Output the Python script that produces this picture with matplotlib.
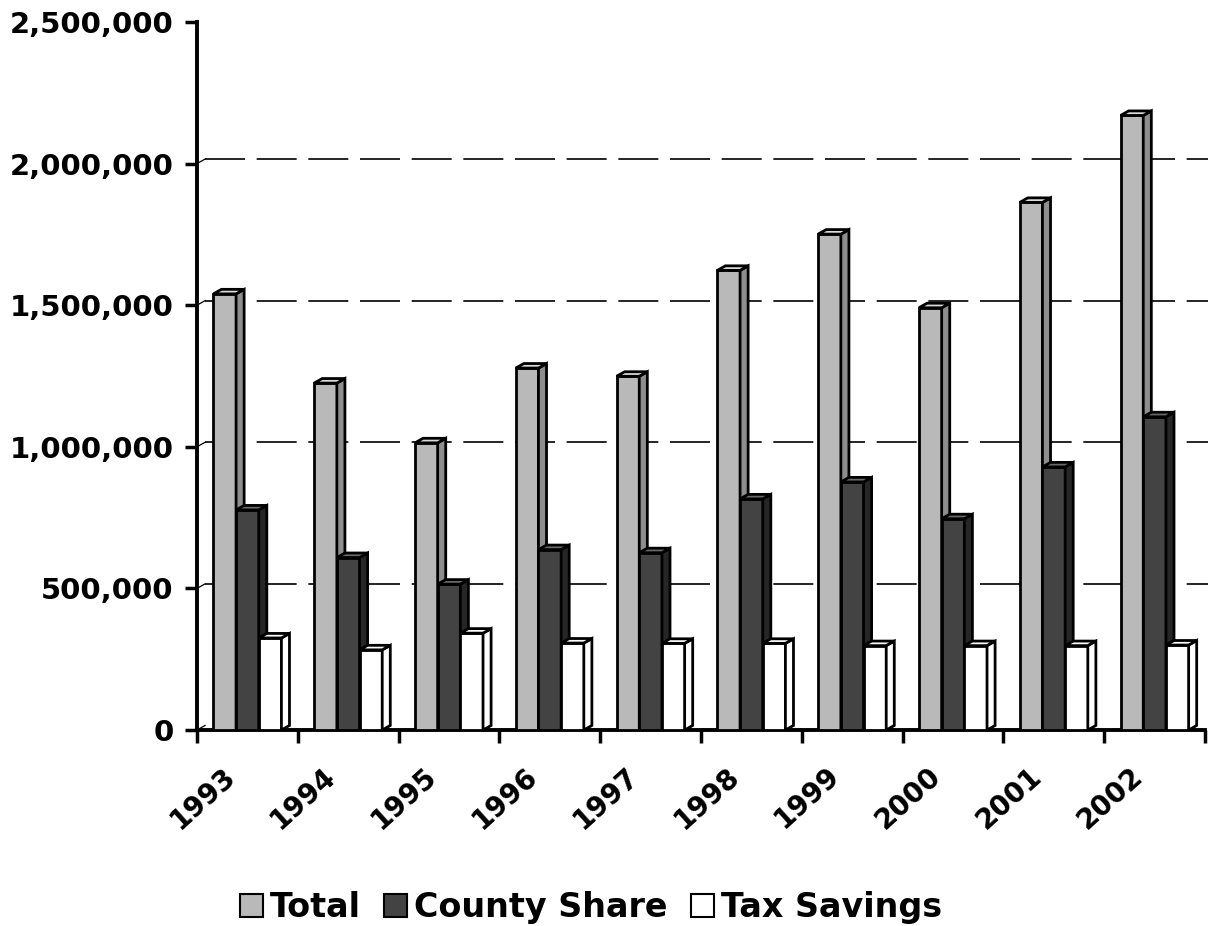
"""
plot.py

Rebuilds the 1993-2002 Total / County Share / Tax Savings column chart
(Excel-style 3D clustered columns with a back-wall grid) and saves out.png.
"""

import matplotlib

matplotlib.use("Agg")
import matplotlib.pyplot as plt
import matplotlib.transforms as mtransforms
from matplotlib.patches import Polygon, Patch
from matplotlib.ticker import FuncFormatter

# Values
years = ["1993", "1994", "1995", "1996", "1997", "1998", "1999", "2000", "2001", "2002"]
total = [1540000, 1225000, 1014000, 1278000, 1249000, 1623000, 1751000, 1491000, 1863000, 2170000]
county_share = [777000, 609000, 515000, 637000, 626000, 816000, 876000, 746000, 929000, 1106000]
tax_savings = [325000, 283000, 342000, 307000, 306000, 306000, 298000, 298000, 298000, 300000]
series_names = ["Total", "County Share", "Tax Savings"]
y_ticks = [0, 500000, 1000000, 1500000, 2000000, 2500000]

# (front, side, top) colours per series
FACES = [
    ("#b9b9b9", "#8e8e8e", "#dcdcdc"),
    ("#434343", "#262626", "#6a6a6a"),
    ("#ffffff", "#ffffff", "#ffffff"),
]
BAR_W = 0.225          # width of one column, in category units
DEPTH_X = 0.08         # 3D depth offset, category units
DEPTH_Y = 16000        # 3D depth offset, value units
FONT = "DejaVu Sans"


def draw_column(ax, x0, value, colours, z):
    """Front face via ax.bar, plus side and top faces for the 3D look."""
    front, side, top = colours
    x1 = x0 + BAR_W
    ax.bar(x0, value, width=BAR_W, align="edge", color=front,
           edgecolor="black", linewidth=2.0, zorder=z)
    side_face = Polygon(
        [(x1, 0), (x1 + DEPTH_X, DEPTH_Y), (x1 + DEPTH_X, value + DEPTH_Y), (x1, value)],
        closed=True, facecolor=side, edgecolor="black", linewidth=2.0, zorder=z,
    )
    top_face = Polygon(
        [(x0, value), (x0 + DEPTH_X, value + DEPTH_Y), (x1 + DEPTH_X, value + DEPTH_Y), (x1, value)],
        closed=True, facecolor=top, edgecolor="black", linewidth=2.0, zorder=z,
    )
    ax.add_patch(side_face)
    ax.add_patch(top_face)


def plot_chart():
    fig = plt.figure(figsize=(12.08, 9.26), dpi=100)
    ax = fig.add_axes([197 / 1208, 196 / 926, 1008 / 1208, 708 / 926])
    n = len(years)
    ax.set_xlim(-0.5, n - 0.5)
    ax.set_ylim(0, 2500000)

    # back-wall grid: dashed lines raised by the depth offset
    for v in y_ticks[1:-1]:
        ax.plot([-0.5 + DEPTH_X, n - 0.5 + 0.03], [v + DEPTH_Y, v + DEPTH_Y],
                color="black", linewidth=1.2, linestyle=(0, (24, 7)),
                zorder=1, clip_on=False)
    for v in y_ticks[:-1]:
        ax.plot([-0.5, -0.5 + DEPTH_X], [v, v + DEPTH_Y], color="black",
                linewidth=0.9, zorder=1)

    # columns
    data = [total, county_share, tax_savings]
    for i in range(n):
        for s, values in enumerate(data):
            x0 = i + (s - 1.5) * BAR_W
            draw_column(ax, x0, values[i], FACES[s], 3 + s)

    # axes styling
    for side in ("top", "right"):
        ax.spines[side].set_visible(False)
    ax.spines["left"].set_linewidth(2.8)
    ax.spines["bottom"].set_linewidth(2.8)

    ax.set_yticks(y_ticks)
    ax.yaxis.set_major_formatter(FuncFormatter(lambda v, _: f"{int(v):,}"))
    ax.tick_params(axis="y", length=9, width=2.5, pad=8)
    for lbl in ax.get_yticklabels():
        lbl.set_fontsize(21)
        lbl.set_fontweight("bold")
        lbl.set_family(FONT)

    # category boundaries as ticks, year labels at centres
    ax.set_xticks([i - 0.5 for i in range(n + 1)])
    ax.set_xticklabels([])
    ax.tick_params(axis="x", which="major", length=9, width=2.5)
    ax.set_xticks(range(n), minor=True)
    ax.set_xticklabels(years, minor=True, rotation=42, ha="right", va="center",
                       rotation_mode="anchor", fontsize=20, fontweight="bold",
                       family=FONT)
    ax.tick_params(axis="x", which="minor", length=0, pad=0)
    shift = mtransforms.ScaledTranslation(-0.16, -0.42, fig.dpi_scale_trans)
    for lbl in ax.get_xticklabels(minor=True):
        lbl.set_transform(lbl.get_transform() + shift)

    handles = [Patch(facecolor=f[0], edgecolor="black", linewidth=1.5) for f in FACES]
    fig.legend(handles, series_names, loc="center", bbox_to_anchor=(0.489, 0.02),
               ncol=3, frameon=False, handlelength=0.7, handleheight=0.7,
               handletextpad=0.2, columnspacing=0.7,
               prop={"size": 24, "weight": "bold", "family": FONT})

    fig.savefig("out.png", dpi=100)


if __name__ == "__main__":
    plot_chart()
